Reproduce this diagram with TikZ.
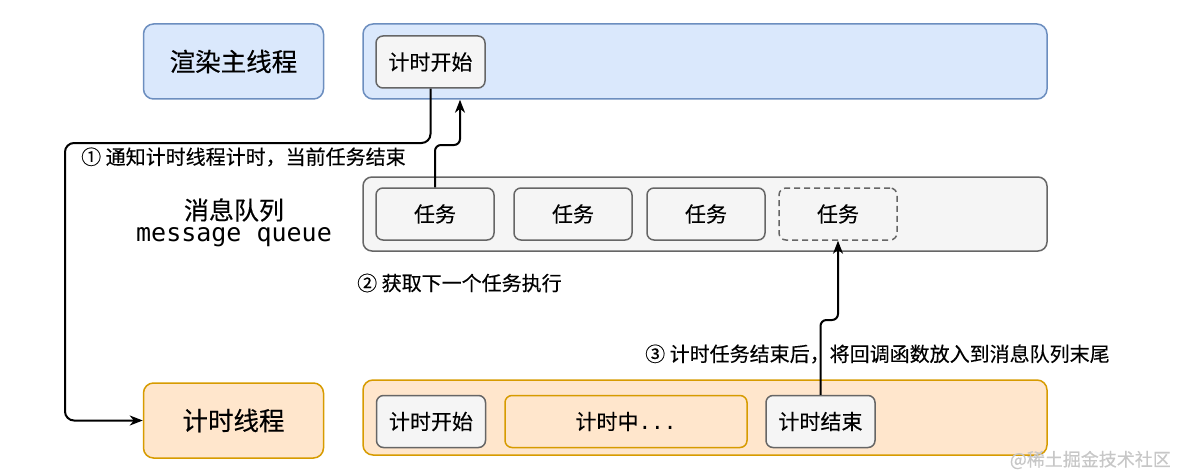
\documentclass[tikz,border=0pt]{standalone}
\usepackage{fontspec}
\setmainfont{Noto Sans CJK SC}[FakeBold=0.3]
\setmonofont{DejaVu Sans Mono}
\usetikzlibrary{arrows.meta}

\definecolor{blueFill}{HTML}{DAE8FC}
\definecolor{blueLine}{HTML}{6C8EBF}
\definecolor{orangeFill}{HTML}{FFE6CC}
\definecolor{orangeLine}{HTML}{D79B00}
\definecolor{grayFill}{HTML}{F5F5F5}
\definecolor{grayLine}{HTML}{666666}

\tikzset{
  threadbox/.style={rounded corners=10pt, line width=1.5pt, inner sep=0pt,
    minimum width=180pt, minimum height=75pt, font=\fontsize{25.5}{30}\selectfont},
  barbox/.style={rounded corners=10pt, line width=1.5pt, inner sep=0pt,
    minimum width=684pt, minimum height=75pt},
  itembox/.style={rounded corners=7pt, line width=1.5pt, inner sep=0pt,
    draw=grayLine, fill=grayFill, minimum height=52pt,
    font=\fontsize{21}{25}\selectfont},
  steptext/.style={anchor=west, inner sep=0pt, font=\fontsize{20}{24}\selectfont},
  arr/.style={line width=2pt, -{Stealth[length=13pt,width=10pt,inset=4pt]}}
}

\begin{document}
\begin{tikzpicture}[x=1pt,y=-1pt]
	\useasboundingbox (0,0) rectangle (1177,476);

	% main thread row
	\node[threadbox, draw=blueLine, fill=blueFill] (main) at (233.5,61.5) {渲染主线程};
	\node[barbox, draw=blueLine, fill=blueFill] (mainbar) at (705,61.5) {};
	\node[itembox, minimum width=109pt] (startA) at (430.5,62) {计时开始};

	% message queue row
	\node[font=\fontsize{25}{30}\selectfont, inner sep=0pt] (mqcn) at (234,210) {消息队列};
	\node[font=\ttfamily\fontsize{25}{30}\selectfont, inner sep=0pt] (mqen) at (234,237.5) {message queue};
	\node[barbox, rounded corners=9pt, draw=grayLine, fill=grayFill, minimum height=74pt] (queuebar) at (705,214) {};
	\node[itembox, minimum width=118pt] (task1) at (435,214) {任务};
	\node[itembox, minimum width=118pt] (task2) at (573,214) {任务};
	\node[itembox, minimum width=118pt] (task3) at (706,214) {任务};
	\node[itembox, minimum width=118pt, dashed, dash pattern=on 6pt off 4pt] (task4) at (838,214) {任务};

	% timer thread row
	\node[threadbox, draw=orangeLine, fill=orangeFill] (timer) at (233.5,420.5) {计时线程};
	\node[barbox, draw=orangeLine, fill=orangeFill] (timerbar) at (705,417.5) {};
	\node[itembox, minimum width=109pt] (startB) at (431,421.5) {计时开始};
	\node[itembox, minimum width=242pt, draw=orangeLine, fill=orangeFill] (counting) at (626,421.5) {计时中{\ttfamily\fontsize{21}{25}\selectfont ...}};
	\node[itembox, minimum width=109pt] (endB) at (820.5,421.5) {计时结束};

	% connectors
	\coordinate (bendA) at (65,143);
	\draw[arr, rounded corners=9pt] (startA.south) |- (bendA) |- (timer.west);
	\node[steptext] (stepone) at (81,157) {① 通知计时线程计时，当前任务结束};

	\coordinate (jogA) at (460,145);
	\draw[arr, rounded corners=6pt] (task1.north) |- (jogA) -- (jogA |- mainbar.south);
	\node[steptext] (steptwo) at (357,283) {② 获取下一个任务执行};

	\coordinate (jogB) at (838,320);
	\draw[arr, rounded corners=6pt] (endB.north) |- (jogB) -- (task4.south);
	\node[steptext] (stepthree) at (645,354) {③ 计时任务结束后，将回调函数放入到消息队列末尾};

	\node[anchor=east, inner sep=0pt, text=black!22, font=\fontsize{18}{21}\selectfont] (mark) at (1171,460) {@稀土掘金技术社区};
\end{tikzpicture}
\end{document}
